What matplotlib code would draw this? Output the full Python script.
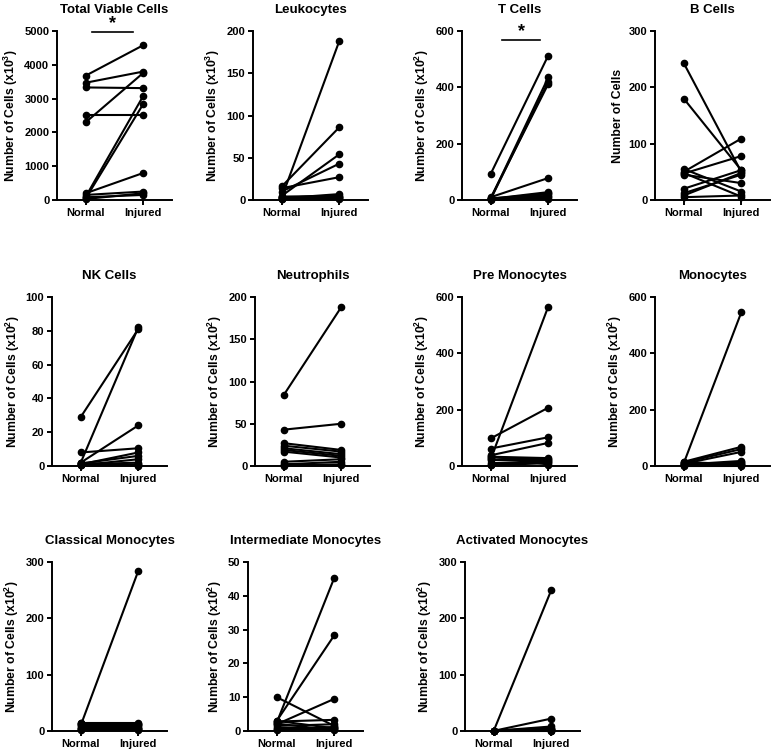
import matplotlib
matplotlib.use("Agg")
import matplotlib.pyplot as plt

plt.rcParams['font.family'] = ['Liberation Sans', 'DejaVu Sans']
plt.rcParams['font.weight'] = 'bold'
plt.rcParams['axes.labelweight'] = 'bold'
plt.rcParams['axes.titleweight'] = 'bold'
plt.rcParams['mathtext.fontset'] = 'custom'
plt.rcParams['mathtext.rm'] = 'Liberation Sans:bold'
plt.rcParams['mathtext.bf'] = 'Liberation Sans:bold'

groups = ['Normal', 'Injured']

# paired values per panel (Normal, Injured)
total_normal = [3680, 3470, 3330, 2500, 2300, 100, 50, 200, 150, 30, 80]
total_injured = [4580, 3800, 3310, 2500, 3760, 3080, 2840, 800, 250, 200, 150]

leuko_normal = [3, 16, 5, 10, 14, 2, 4, 1, 3, 2, 1]
leuko_injured = [188, 86, 54, 43, 27, 7, 5, 4, 3, 2, 1]

tcell_normal = [93, 5, 3, 8, 10, 4, 2, 6, 3, 1, 2]
tcell_injured = [513, 435, 420, 412, 78, 28, 25, 20, 15, 10, 5]

bcell_normal = [243, 180, 50, 47, 55, 45, 20, 12, 8, 5, 48]
bcell_injured = [50, 53, 109, 78, 15, 30, 53, 45, 48, 8, 6]

nk_normal = [29, 2, 2, 8, 1, 1.5, 0.5, 1, 0.3, 0.5, 2]
nk_injured = [81, 82, 24, 10.5, 8, 6, 4, 2, 1, 0.5, 0.2]

neut_normal = [84, 43, 27, 24, 21, 19, 17, 5, 2, 1, 0.5]
neut_injured = [188, 50, 19, 17, 14, 12, 10, 8, 5, 2, 1]

premono_normal = [25, 98, 62, 38, 33, 30, 20, 10, 5, 3, 35]
premono_injured = [566, 207, 102, 82, 28, 25, 20, 18, 15, 10, 5]

mono_normal = [10, 15, 12, 8, 5, 3, 2, 14, 6, 4, 1]
mono_injured = [545, 68, 60, 50, 18, 14, 10, 6, 3, 2, 1]

classic_normal = [10, 15, 13, 12, 8, 5, 3, 14, 6, 4, 2]
classic_injured = [284, 15, 12, 10, 8, 5, 3, 13, 6, 4, 2]

inter_normal = [10, 2.5, 3, 2, 2.8, 1.5, 1, 0.5, 2.2, 0.3, 3]
inter_injured = [1.5, 45.3, 28.3, 9.5, 3.3, 2, 1, 0.5, 0.2, 1.2, 0.8]

activ_normal = [0.5, 0.3, 0.2, 0.4, 0.1, 0.2, 0.3, 0.1, 0.2, 0.1, 0.3]
activ_injured = [250, 22, 8, 6, 4, 3, 2, 1, 1, 0.5, 0.3]

lab3 = r'Number of Cells (x10$^{3}$)'
lab2 = r'Number of Cells (x10$^{2}$)'

panels = [
    ('Total Viable Cells', total_normal, total_injured, 5000, 1000, lab3, True),
    ('Leukocytes', leuko_normal, leuko_injured, 200, 50, lab3, False),
    ('T Cells', tcell_normal, tcell_injured, 600, 200, lab2, True),
    ('B Cells', bcell_normal, bcell_injured, 300, 100, 'Number of Cells', False),
    ('NK Cells', nk_normal, nk_injured, 100, 20, lab2, False),
    ('Neutrophils', neut_normal, neut_injured, 200, 50, lab2, False),
    ('Pre Monocytes', premono_normal, premono_injured, 600, 200, lab2, False),
    ('Monocytes', mono_normal, mono_injured, 600, 200, lab2, False),
    ('Classical Monocytes', classic_normal, classic_injured, 300, 100, lab2, False),
    ('Intermediate Monocytes', inter_normal, inter_injured, 50, 10, lab2, False),
    ('Activated Monocytes', activ_normal, activ_injured, 300, 100, lab2, False),
]

W, H = 777, 756
fig = plt.figure(figsize=(W / 100, H / 100), dpi=100)

# axes pixel boxes: left edge, top edge
lefts = [57, 253, 462, 655, 52, 255, 462, 655, 52, 248, 465]
tops = [31, 31, 31, 31, 297, 297, 297, 297, 562, 562, 562]
aw, ah = 115, 169

sig_bars = {'Total Viable Cells': (0.1, 0.82, 4960), 'T Cells': (0.2, 0.86, 569)}

for i, (title, nv, iv, ymax, step, ylab, sig) in enumerate(panels):
    l, t = lefts[i], tops[i]
    ax = fig.add_axes([l / W, 1 - (t + ah) / H, aw / W, ah / H])
    for a, b in zip(nv, iv):
        ax.plot([0, 1], [a, b], color='black', lw=1.5, marker='o', ms=4.5,
                clip_on=False, zorder=3)
    ax.set_xlim(-0.5, 1.5)
    ax.set_ylim(0, ymax)
    ax.set_yticks(range(0, ymax + 1, step))
    ax.set_xticks([0, 1])
    ax.set_xticklabels(groups)
    ax.spines['top'].set_visible(False)
    ax.spines['right'].set_visible(False)
    ax.spines['left'].set_linewidth(1.4)
    ax.spines['bottom'].set_linewidth(1.4)
    ax.tick_params(axis='both', labelsize=8, width=1.4, length=3.5, pad=2)
    ax.set_title(title, fontsize=9.5, pad=13)
    ax.set_ylabel(ylab, fontsize=8.8, labelpad=3)
    if sig:
        x0, x1, yb = sig_bars[title]
        ax.plot([x0, x1], [yb, yb], color='black', lw=1.2, clip_on=False)
        ax.text((x0 + x1) / 2, yb, '*', ha='center', va='bottom',
                fontsize=13, clip_on=False)

fig.savefig('out.png', dpi=100)
